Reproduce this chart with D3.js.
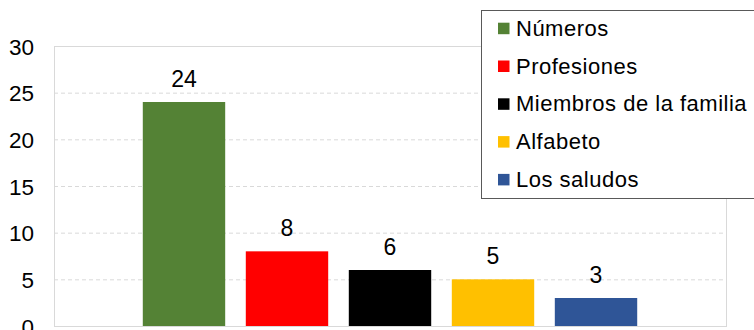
<!DOCTYPE html>
<html>
<head>
<meta charset="utf-8">
<script src="https://cdn.jsdelivr.net/npm/d3@7"></script>
<style>
  html, body { margin: 0; padding: 0; background: #fff; }
  svg { display: block; font-family: "Liberation Sans", Arial, sans-serif; }
</style>
</head>
<body>
<svg id="chart" width="754" height="330"></svg>
<script>
const categories = ["Números", "Profesiones", "Miembros de la familia", "Alfabeto", "Los saludos"];
const values = [24, 8, 6, 5, 3];
const colors = ["#548235", "#FF0000", "#000000", "#FFC000", "#2F5597"];
const yTicks = [0, 5, 10, 15, 20, 25, 30];

const svg = d3.select("#chart");
const plot = { left: 54, right: 726, top: 46, bottom: 326 };

const x = d3.scaleBand().domain(categories).range([plot.left, plot.right])
  .paddingInner(0.2).paddingOuter(0.862);
const y = d3.scaleLinear().domain([0, 30]).range([plot.bottom, plot.top]);

// gridlines
svg.append("g").selectAll("line").data(yTicks.filter(d => d > 0 && d < 30)).join("line")
  .attr("x1", plot.left).attr("x2", plot.right)
  .attr("y1", d => y(d) + 0.5).attr("y2", d => y(d) + 0.5)
  .attr("stroke", "#d9d9d9").attr("stroke-width", 1).attr("stroke-dasharray", "4,3");

// plot border
svg.append("rect").attr("x", plot.left + 0.5).attr("y", plot.top + 0.5)
  .attr("width", plot.right - plot.left).attr("height", plot.bottom - plot.top)
  .attr("fill", "none").attr("stroke", "#d9d9d9").attr("stroke-width", 1);

// y axis labels
const yAxis = d3.axisLeft(y).tickValues(yTicks).tickSize(0).tickPadding(0);
const ya = svg.append("g").attr("transform", "translate(34,0)").call(yAxis);
ya.select(".domain").remove();
ya.selectAll("text").attr("font-size", "22.5px").attr("fill", "#000")
  .attr("font-family", "Liberation Sans, Arial, sans-serif").attr("dy", "0.36em");

// bars
svg.append("g").selectAll("rect").data(values).join("rect")
  .attr("x", (d, i) => x(categories[i]))
  .attr("width", x.bandwidth())
  .attr("y", d => y(d))
  .attr("height", d => y(0) - y(d))
  .attr("fill", (d, i) => colors[i]);

// data labels
svg.append("g").selectAll("text").data(values).join("text")
  .attr("x", (d, i) => x(categories[i]) + x.bandwidth() / 2)
  .attr("y", d => y(d) - 15)
  .attr("text-anchor", "middle")
  .attr("font-size", "23px").attr("fill", "#000")
  .text(d => d);

// legend
const lg = svg.append("g");
lg.append("rect").attr("x", 481.5).attr("y", 10.5).attr("width", 300).attr("height", 188)
  .attr("fill", "#fff").attr("stroke", "#595959").attr("stroke-width", 1);
const items = lg.selectAll("g.item").data(categories).join("g").attr("class", "item")
  .attr("transform", (d, i) => `translate(0, ${35.7 + i * 37.8})`);
items.append("rect").attr("x", 498).attr("y", -13).attr("width", 11.5).attr("height", 11.5)
  .attr("fill", (d, i) => colors[i]);
items.append("text").attr("x", 516).attr("y", 0)
  .attr("font-size", "22px").attr("letter-spacing", "0.5px").attr("fill", "#000")
  .text(d => d);
</script>
</body>
</html>
